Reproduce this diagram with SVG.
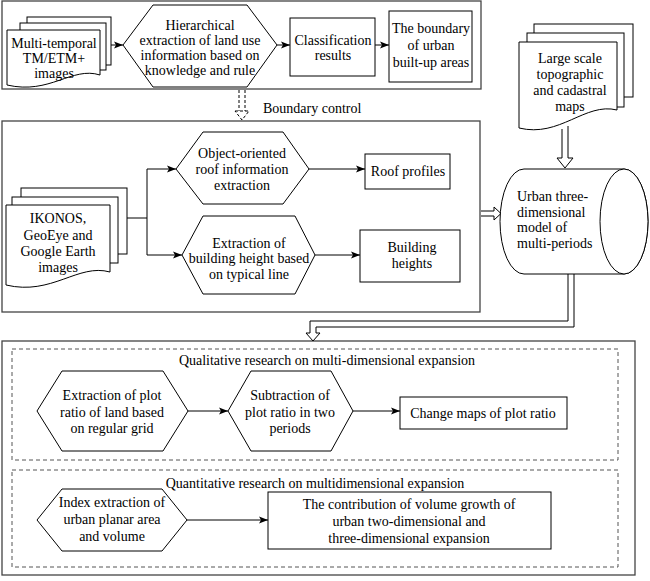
<svg xmlns="http://www.w3.org/2000/svg" width="650" height="581" viewBox="0 0 650 581">
<defs>
<style>
text{font-family:"Liberation Serif","Times New Roman",serif;font-size:14px;fill:#000}
.c{text-anchor:middle}
.n{fill:#fff;stroke:#000;stroke-width:1}
.box{fill:none;stroke:#444;stroke-width:1.3}
.dash{fill:none;stroke:#555;stroke-width:1;stroke-dasharray:4,3}
.ln{fill:none;stroke:#000;stroke-width:1}
.hol{fill:#fff;stroke:#000;stroke-width:1}
</style>
<marker id="ah" markerWidth="10" markerHeight="8" refX="9" refY="4" orient="auto" markerUnits="userSpaceOnUse">
<path d="M0,0.5 L9,4 L0,7.5 L2,4 Z" fill="#000"/>
</marker>
</defs>
<rect width="650" height="581" fill="#fff"/>

<g id="containers">
<rect class="box" x="2" y="1" width="479" height="88"/>
<rect class="box" x="2" y="121" width="478" height="191"/>
<rect class="box" x="2" y="341" width="633" height="234"/>
<rect class="dash" x="12" y="349" width="606" height="111"/>
<rect class="dash" x="12" y="470" width="606" height="97"/>
</g>

<g id="connectors">
<line class="ln" x1="111" y1="45" x2="123" y2="45" marker-end="url(#ah)"/>
<line class="ln" x1="277" y1="45" x2="290" y2="45" marker-end="url(#ah)"/>
<line class="ln" x1="375" y1="45" x2="389" y2="45" marker-end="url(#ah)"/>
<polyline class="ln" points="127,218 147,218"/>
<polyline class="ln" points="147,169 147,255 182,255" marker-end="url(#ah)"/>
<line class="ln" x1="147" y1="169" x2="176" y2="169" marker-end="url(#ah)"/>
<line class="ln" x1="309" y1="169" x2="365" y2="169" marker-end="url(#ah)"/>
<line class="ln" x1="315" y1="255" x2="360" y2="255" marker-end="url(#ah)"/>
<line class="ln" x1="188" y1="411" x2="228" y2="411" marker-end="url(#ah)"/>
<line class="ln" x1="353" y1="411" x2="400" y2="411" marker-end="url(#ah)"/>
<line class="ln" x1="187" y1="520" x2="268" y2="520" marker-end="url(#ah)"/>
<g stroke="#000" stroke-width="1" fill="#fff" stroke-dasharray="3,2">
<line x1="239" y1="90" x2="239" y2="111"/>
<line x1="245" y1="90" x2="245" y2="111"/>
<polygon points="235,111 249,111 242,120"/>
</g>
<path class="hol" d="M562,129 V158 H557 L565,168 L573,158 H568 V126"/>
<path class="hol" d="M481,211 H494 V207 L501,213.5 L494,220 V216 H481"/>
<path class="hol" d="M568,274 V321 H310 V333 H306 L313,341 L320,333 H316 V327 H574 V274"/>
</g>

<g id="n-multitemporal">
<rect class="n" x="27" y="17" width="84" height="48"/>
<rect class="n" x="20" y="23" width="86" height="47"/>
<path class="n" d="M7,30 H100 V75 C72,66 50,95 7,85 Z"/>
<text class="c" x="54" y="48">Multi-temporal</text>
<text class="c" x="54" y="63">TM/ETM+</text>
<text class="c" x="54" y="78">images</text>
</g>

<g id="n-hierarchical">
<polygon class="n" points="123,45 153,5 247,5 277,45 247,87 153,87"/>
<text class="c" x="200" y="30">Hierarchical</text>
<text class="c" x="200" y="45">extraction of land use</text>
<text class="c" x="200" y="60">information based on</text>
<text class="c" x="200" y="75">knowledge and rule</text>
</g>

<g id="n-classification">
<rect class="n" x="290" y="18" width="85" height="58"/>
<text class="c" x="333" y="45">Classification</text>
<text class="c" x="333" y="60">results</text>
</g>

<g id="n-boundary">
<rect class="n" x="389" y="11" width="83" height="71"/>
<text class="c" x="431" y="33">The boundary</text>
<text class="c" x="431" y="50">of urban</text>
<text class="c" x="431" y="67">built-up areas</text>
</g>

<g id="n-boundary-control">
<text x="263" y="113">Boundary control</text>
</g>

<g id="n-largemaps">
<rect class="n" x="534" y="24" width="99" height="73"/>
<rect class="n" x="527" y="33" width="97" height="74"/>
<path class="n" d="M519,42 H617 V110 C585,102 560,138 519,128 Z"/>
<text class="c" x="570" y="63">Large scale</text>
<text class="c" x="570" y="79">topographic</text>
<text class="c" x="570" y="95">and cadastral</text>
<text class="c" x="570" y="111">maps</text>
</g>

<g id="n-ikonos">
<rect class="n" x="21" y="188" width="106" height="66"/>
<rect class="n" x="12" y="197" width="106" height="66"/>
<path class="n" d="M6,205 H110 V272 C78,263 52,296 6,285 Z"/>
<text class="c" x="58" y="223">IKONOS,</text>
<text class="c" x="58" y="240">GeoEye and</text>
<text class="c" x="58" y="256">Google Earth</text>
<text class="c" x="58" y="272">images</text>
</g>

<g id="n-object">
<polygon class="n" points="176,169 203,132 283,132 309,169 283,204 203,204"/>
<text class="c" x="242" y="158">Object-oriented</text>
<text class="c" x="242" y="174">roof information</text>
<text class="c" x="242" y="190">extraction</text>
</g>

<g id="n-height">
<polygon class="n" points="182,255 203,216 295,216 315,255 295,294 203,294"/>
<text class="c" x="249" y="248">Extraction of</text>
<text class="c" x="249" y="263">building height based</text>
<text class="c" x="249" y="279">on typical line</text>
</g>

<g id="n-roof">
<rect class="n" x="365" y="154" width="85" height="35"/>
<text class="c" x="408" y="176">Roof profiles</text>
</g>

<g id="n-bheights">
<rect class="n" x="360" y="230" width="100" height="52"/>
<text class="c" x="412" y="252">Building</text>
<text class="c" x="412" y="268">heights</text>
</g>

<g id="n-cylinder">
<path class="n" d="M524,169 H624 A24,52.5 0 0 1 624,274 H524 A24,52.5 0 0 1 524,169 Z"/>
<ellipse class="n" cx="624" cy="221.5" rx="24" ry="52.5"/>
<text x="517" y="201">Urban three-</text>
<text x="517" y="217">dimensional</text>
<text x="517" y="232">model of</text>
<text x="517" y="248">multi-periods</text>
</g>

<g id="n-qualitative">
<text class="c" x="327" y="365">Qualitative research on multi-dimensional expansion</text>
</g>

<g id="n-plotratio">
<polygon class="n" points="37,411 62,371 163,371 188,411 163,451 62,451"/>
<text class="c" x="112" y="400">Extraction of plot</text>
<text class="c" x="112" y="417">ratio of land based</text>
<text class="c" x="112" y="433">on regular grid</text>
</g>

<g id="n-subtraction">
<polygon class="n" points="228,411 251,371 331,371 353,411 331,451 251,451"/>
<text class="c" x="290" y="400">Subtraction of</text>
<text class="c" x="290" y="417">plot ratio in two</text>
<text class="c" x="290" y="433">periods</text>
</g>

<g id="n-changemaps">
<rect class="n" x="400" y="397" width="167" height="32"/>
<text class="c" x="483" y="418">Change maps of plot ratio</text>
</g>

<g id="n-quantitative">
<text class="c" x="315" y="488">Quantitative research on multidimensional expansion</text>
</g>

<g id="n-index">
<polygon class="n" points="37,520 62,489 162,489 187,520 162,551 62,551"/>
<text class="c" x="112" y="507">Index extraction of</text>
<text class="c" x="112" y="524">urban planar area</text>
<text class="c" x="112" y="541">and volume</text>
</g>

<g id="n-contribution">
<rect class="n" x="268" y="492" width="283" height="57"/>
<text class="c" x="409" y="509">The contribution of volume growth of</text>
<text class="c" x="409" y="526">urban two-dimensional and</text>
<text class="c" x="409" y="543">three-dimensional expansion</text>
</g>
</svg>
